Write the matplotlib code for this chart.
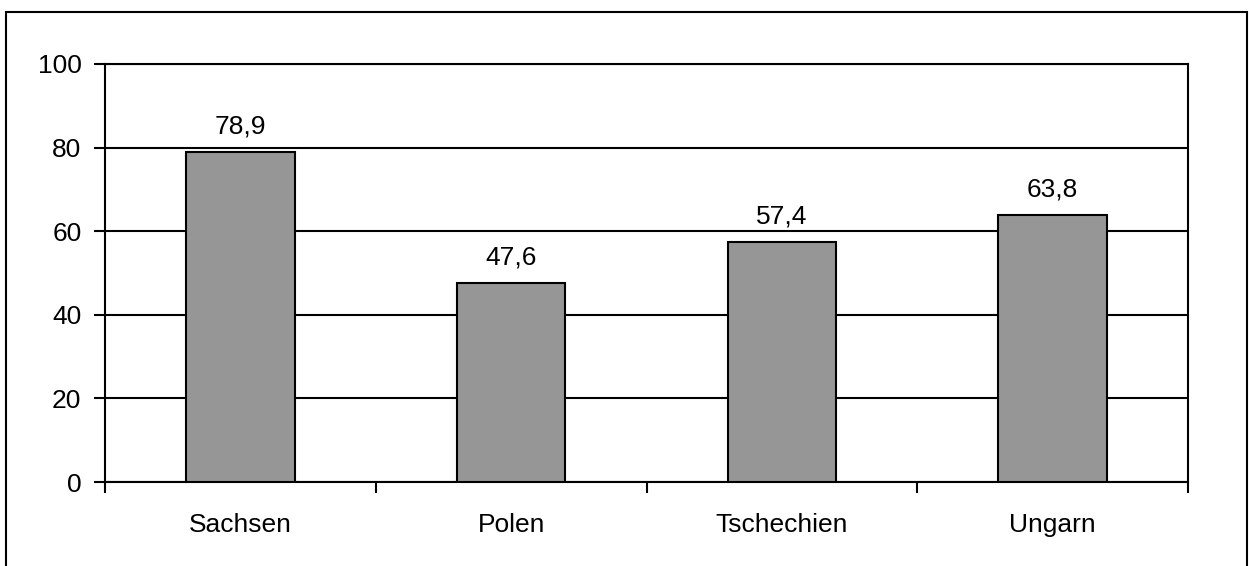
import matplotlib
matplotlib.use("Agg")
from matplotlib import pyplot as plt
from matplotlib.patches import Rectangle

CATEGORIES = ["Sachsen", "Polen", "Tschechien", "Ungarn"]
VALUES = [78.9, 47.6, 57.4, 63.8]
LABELS = ["78,9", "47,6", "57,4", "63,8"]
Y_TICKS = [0, 20, 40, 60, 80, 100]

W, H = 1249, 566


def main():
    plt.rcParams["font.family"] = ["Liberation Sans", "DejaVu Sans"]
    fig = plt.figure(figsize=(W / 100, H / 100), dpi=100)
    fig.patch.set_facecolor("white")

    # outer frame around the whole chart (bottom edge runs off the image)
    fig.patches.append(Rectangle((6 / W, -10 / H), 1241 / W, 564 / H, transform=fig.transFigure,
                                 fill=False, edgecolor="black", linewidth=1.5))

    ax = fig.add_axes([105 / W, (H - 482) / H, 1083 / W, 418 / H])
    x = list(range(len(CATEGORIES)))
    ax.bar(x, VALUES, width=0.4, color="#969696", edgecolor="black", linewidth=1.5, zorder=3)
    for xi, v, lab in zip(x, VALUES, LABELS):
        ax.text(xi, v + 3.2, lab, ha="center", va="bottom", fontsize=19)

    ax.set_xlim(-0.5, len(CATEGORIES) - 0.5)
    ax.set_ylim(0, 100)
    ax.set_yticks(Y_TICKS)
    ax.yaxis.grid(True, color="black", linewidth=1.5, zorder=0)
    ax.set_axisbelow(True)

    ax.set_xticks([i - 0.5 for i in range(len(CATEGORIES) + 1)])
    ax.set_xticklabels([])
    ax.set_xticks(x, minor=True)
    ax.set_xticklabels(CATEGORIES, minor=True, fontsize=19)
    ax.tick_params(axis="x", which="minor", length=0, pad=22)
    ax.tick_params(axis="x", which="major", length=8, width=1.5, direction="out")
    ax.tick_params(axis="y", length=8, width=1.5, labelsize=19, pad=9)

    for s in ax.spines.values():
        s.set_linewidth(1.5)

    fig.savefig("out.png", dpi=100)


if __name__ == "__main__":
    main()
